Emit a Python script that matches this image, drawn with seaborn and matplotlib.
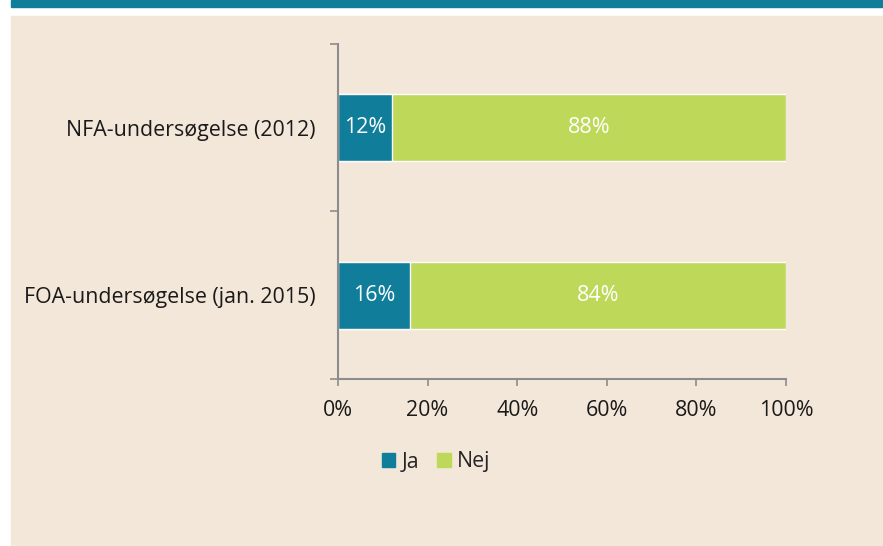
import pandas as pd
import numpy as np
import matplotlib.pyplot as plt
import matplotlib.patches as mpatches
import seaborn as sns

# Data
undersogelser = ['NFA-undersøgelse (2012)', 'FOA-undersøgelse (jan. 2015)']
ja = [12, 16]
nej = [88, 84]
x_ticks = [0, 20, 40, 60, 80, 100]

teal = '#107E9B'
green = '#BED85A'
beige = '#F3E7DA'
grey = '#8C8C8C'
fs = 15.4

sns.set_style('white')
plt.rcParams['font.family'] = ['Open Sans', 'DejaVu Sans']

df = pd.DataFrame({'undersøgelse': undersogelser, 'Ja': ja, 'Nej': nej})
df['total'] = df['Ja'] + df['Nej']

W, H = 883, 546
fig = plt.figure(figsize=(W / 100, H / 100), dpi=100, facecolor='white')

# Baggrund og topbjælke
fig.patches.append(mpatches.Rectangle((11 / W, 1 - 7 / H), 1 - 11 / W, 7 / H,
                                      transform=fig.transFigure, color=teal, zorder=-2))
fig.patches.append(mpatches.Rectangle((11 / W, 0), 1 - 11 / W, 1 - 16 / H,
                                      transform=fig.transFigure, color=beige, zorder=-2))

ax = fig.add_axes([338 / W, 1 - 379 / H, (786 - 338) / W, (379 - 44) / H])
ax.set_facecolor('none')

# Stablede søjler: total (Nej) bagerst, Ja forrest
sns.barplot(data=df, y='undersøgelse', x='total', color=green, width=0.4,
            orient='h', ax=ax, saturation=1)
sns.barplot(data=df, y='undersøgelse', x='Ja', color=teal, width=0.4,
            orient='h', ax=ax, saturation=1)

# Dataetiketter
for i, row in df.iterrows():
    ax.text(row['Ja'] / 2, i, f"{row['Ja']}%", ha='center', va='center',
            color='white', fontsize=fs)
    ax.text(row['Ja'] + row['Nej'] / 2, i, f"{row['Nej']}%", ha='center',
            va='center', color='white', fontsize=fs)

ax.set_xlim(0, 100)
ax.set_ylim(1.5, -0.5)
ax.set_xticks(x_ticks)
ax.set_xticklabels([f'{t}%' for t in x_ticks], fontsize=fs, color='#1a1a1a')
ax.set_yticks([-0.5, 0.5, 1.5])
ax.set_yticklabels([])
ax.set_yticks([0, 1], minor=True)
ax.set_yticklabels(undersogelser, minor=True, fontsize=fs, color='#1a1a1a')
ax.tick_params(axis='y', which='minor', left=True, length=0, pad=16)
ax.tick_params(axis='y', which='major', left=True, length=6, width=1.2, color=grey,
               direction='out')
ax.tick_params(axis='x', bottom=True, length=5, width=1.2, color=grey, direction='out',
               pad=10)
ax.set_xlabel('')
ax.set_ylabel('')

for side in ['top', 'right']:
    ax.spines[side].set_visible(False)
for side in ['left', 'bottom']:
    ax.spines[side].set_color(grey)
    ax.spines[side].set_linewidth(1.5)

handles = [mpatches.Patch(color=teal, label='Ja'), mpatches.Patch(color=green, label='Nej')]
fig.legend(handles=handles, loc='center', bbox_to_anchor=(436 / W, 1 - 462 / H),
           ncol=2, frameon=False, fontsize=fs, handlelength=0.65, handleheight=0.65,
           handletextpad=0.3, columnspacing=0.8)

plt.savefig('out.png', dpi=100, facecolor='white')
